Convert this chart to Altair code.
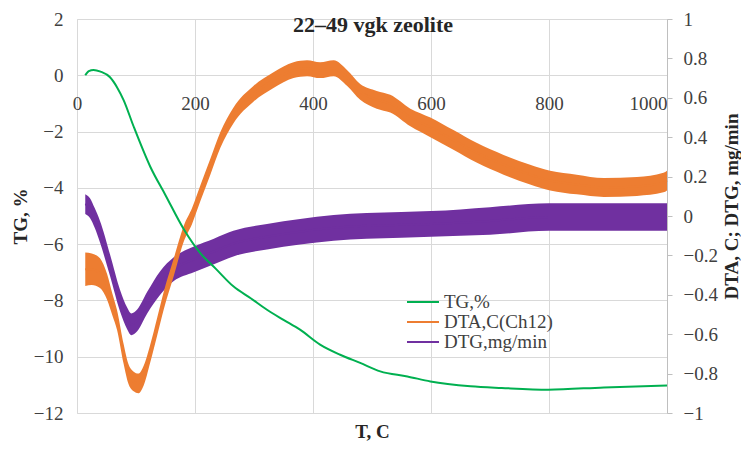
import altair as alt
import pandas as pd

SERIES = ["TG,%", "DTA,C(Ch12)", "DTG,mg/min"]
COLORS = ["#00B050", "#ED7D31", "#7030A0"]
TITLE = "22–49 vgk zeolite"

# TG, % (left axis)
T_TG = [14, 20, 28, 40, 56, 68, 79, 96, 124, 150, 181, 209, 235, 265, 295, 322, 350, 378,
        412, 446, 480, 514, 560, 599, 667, 720, 799, 893, 1000]
TG = [0.0, 0.15, 0.19, 0.13, -0.07, -0.43, -0.88, -1.82, -3.24, -4.26, -5.47, -6.32, -6.87,
      -7.5, -7.93, -8.33, -8.69, -9.04, -9.57, -9.93, -10.22, -10.52, -10.7, -10.88, -11.05,
      -11.11, -11.17, -11.09, -11.02]

# DTA, C(Ch12) (right axis): centre of the noisy trace and half-width of its noise band
T_DTA = [14, 25, 39, 51, 60, 68, 79, 87, 96, 104, 113, 124, 136, 147, 164, 181, 195, 209, 226,
         243, 265, 299, 333, 367, 390, 412, 435, 458, 480, 508, 531, 565, 599, 638, 678, 723,
         768, 802, 847, 893, 949, 994, 1000]
DTA = [-0.27, -0.27, -0.29, -0.36, -0.45, -0.53, -0.70, -0.80, -0.84, -0.85, -0.81, -0.70,
       -0.56, -0.43, -0.26, -0.09, 0.0, 0.115, 0.25, 0.386, 0.51, 0.62, 0.69, 0.74, 0.75, 0.74,
       0.75, 0.70, 0.63, 0.59, 0.57, 0.50, 0.45, 0.386, 0.32, 0.26, 0.21, 0.18, 0.16, 0.145,
       0.15, 0.17, 0.18]
DTA_HW = [0.085, 0.08, 0.075, 0.065, 0.055, 0.05, 0.05, 0.05, 0.05, 0.05, 0.05, 0.045, 0.045,
          0.045, 0.045, 0.04, 0.04, 0.04, 0.04, 0.04, 0.04, 0.04, 0.04, 0.04, 0.04, 0.04, 0.04,
          0.04, 0.04, 0.045, 0.045, 0.045, 0.05, 0.05, 0.05, 0.05, 0.05, 0.05, 0.05, 0.048,
          0.048, 0.05, 0.05]

# DTG, mg/min (right axis)
T_DTG = [14, 22, 30, 39, 56, 73, 85, 92, 102, 119, 141, 164, 198, 232, 265, 322, 378, 435,
         491, 550, 600, 700, 800, 900, 1000]
DTG = [0.06, 0.04, -0.01, -0.08, -0.25, -0.43, -0.52, -0.55, -0.53, -0.44, -0.34, -0.27,
       -0.22, -0.18, -0.14, -0.105, -0.08, -0.06, -0.05, -0.045, -0.04, -0.025, -0.005,
       -0.005, -0.005]
DTG_HW = [0.05, 0.05, 0.05, 0.055, 0.055, 0.055, 0.055, 0.055, 0.055, 0.055, 0.06, 0.06,
          0.065, 0.065, 0.065, 0.065, 0.065, 0.065, 0.065, 0.065, 0.065, 0.07, 0.07, 0.07, 0.07]

X_TICKS = [0, 200, 400, 600, 800, 1000]
TG_TICKS = [-12, -10, -8, -6, -4, -2, 0, 2]
R_TICKS = [-1, -0.8, -0.6, -0.4, -0.2, 0, 0.2, 0.4, 0.6, 0.8, 1]

W, H = 590, 394
FONT = "Liberation Serif"
LAB = "#404040"
TIT = "#262626"
GRID = "#d9d9d9"

tg_df = pd.DataFrame({"T": T_TG, "v": TG, "series": SERIES[0]})
dta_df = pd.DataFrame({"T": T_DTA, "v": DTA,
                       "lo": [c - h for c, h in zip(DTA, DTA_HW)],
                       "hi": [c + h for c, h in zip(DTA, DTA_HW)],
                       "series": SERIES[1]})
dtg_df = pd.DataFrame({"T": T_DTG, "v": DTG,
                       "lo": [c - h for c, h in zip(DTG, DTG_HW)],
                       "hi": [c + h for c, h in zip(DTG, DTG_HW)],
                       "series": SERIES[2]})

axis_offset = H * (2 - 0) / 14 - H  # put the T axis on TG = 0

x_enc = alt.X(
    "T:Q",
    scale=alt.Scale(domain=[0, 1000], nice=False, zero=False),
    axis=alt.Axis(
        orient="bottom", values=X_TICKS, format="d", offset=axis_offset, domain=False,
        ticks=False, grid=True, gridColor=GRID, gridWidth=1,
        labelFont=FONT, labelFontSize=19, labelColor=LAB, labelPadding=19,
        labelAlign={"condition": {"test": "datum.value >= 1000", "value": "right"}, "value": "center"},
        title="T, C", titleFont=FONT, titleFontSize=19, titleFontWeight="bold", titleColor=TIT,
        titleY=362, titleBaseline="alphabetic",
    ),
)

color_enc = alt.Color(
    "series:N",
    scale=alt.Scale(domain=SERIES, range=COLORS),
    legend=alt.Legend(
        orient="none", legendX=329, legendY=273, title=None, padding=0,
        symbolType="stroke", symbolSize=1024, symbolStrokeWidth=2, clipHeight=20, rowPadding=0,
        labelFont=FONT, labelFontSize=19, labelColor=LAB, labelOffset=4,
    ),
)

left_y = alt.Y(
    "v:Q",
    scale=alt.Scale(domain=[-12, 2], nice=False, zero=False),
    axis=alt.Axis(
        orient="left", values=TG_TICKS, domain=False, ticks=False, grid=True, gridColor=GRID,
        labelFont=FONT, labelFontSize=19, labelColor=LAB, labelPadding=14,
        title="TG, %", titleFont=FONT, titleFontSize=19, titleFontWeight="bold", titleColor=TIT,
        titleAngle=270, titleX=-57, titleBaseline="middle",
    ),
)

right_axis = alt.Axis(
    orient="right", values=R_TICKS, format="~g", domain=True, domainColor="#bfbfbf",
    ticks=True, tickColor="#bfbfbf", tickSize=5, grid=False,
    labelFont=FONT, labelFontSize=19, labelColor=LAB, labelPadding=11,
    title="DTA, C; DTG, mg/min", titleFont=FONT, titleFontSize=19, titleFontWeight="bold",
    titleColor=TIT, titleAngle=270, titleX=64, titleY=187, titleBaseline="middle",
)
r_scale = alt.Scale(domain=[-1, 1], nice=False, zero=False)

dtg_band = alt.Chart(dtg_df).mark_area(color=COLORS[2], opacity=1, interpolate="monotone").encode(
    x=x_enc, y=alt.Y("lo:Q", scale=r_scale, axis=right_axis), y2="hi:Q")
dtg_line = alt.Chart(dtg_df).mark_line(strokeWidth=2, interpolate="monotone").encode(
    x=x_enc, y=alt.Y("v:Q", scale=r_scale, axis=right_axis), color=color_enc)
dta_band = alt.Chart(dta_df).mark_area(color=COLORS[1], opacity=1, interpolate="monotone").encode(
    x=x_enc, y=alt.Y("lo:Q", scale=r_scale, axis=right_axis), y2="hi:Q")
dta_line = alt.Chart(dta_df).mark_line(strokeWidth=2, interpolate="monotone").encode(
    x=x_enc, y=alt.Y("v:Q", scale=r_scale, axis=right_axis), color=color_enc)

right = alt.layer(dtg_band, dtg_line, dta_band, dta_line)
tg_line = alt.Chart(tg_df).mark_line(strokeWidth=2, interpolate="monotone").encode(
    x=x_enc, y=left_y, color=color_enc)

title_mark = alt.Chart(pd.DataFrame({"t": [TITLE]})).mark_text(
    font=FONT, fontSize=22, fontWeight="bold", color=TIT, align="center", baseline="alphabetic"
).encode(x=alt.value(296), y=alt.value(13), text="t:N")

chart = alt.layer(right, tg_line, title_mark).resolve_scale(y="independent").properties(
    width=W, height=H,
    autosize=alt.AutoSizeParams(type="none"),
    padding={"left": 69, "top": 11, "right": 74, "bottom": 31},
).configure_view(stroke=None).configure(background="white")

chart.save("out.html", embed_options={"renderer": "svg", "actions": False})
